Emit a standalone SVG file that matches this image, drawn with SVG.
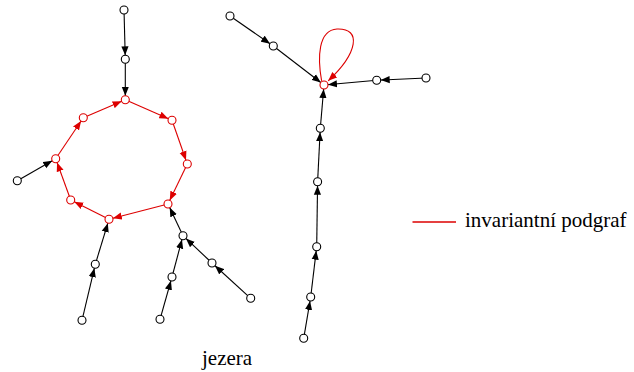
<svg xmlns="http://www.w3.org/2000/svg" width="634" height="372" viewBox="0 0 634 372">
  <style>
    .e { stroke: #000; stroke-width: 1.1; fill: none; marker-end: url(#ab); }
    .r { stroke: #dd0000; stroke-width: 1.1; fill: none; marker-end: url(#ar); }
    .n { fill: #fff; stroke: #000; stroke-width: 1.1; }
    .nr { fill: #fff; stroke: #dd0000; stroke-width: 1.1; }
    text { font-family: "Liberation Serif", "Times New Roman", serif; font-size: 21px; fill: #000; }
  </style>
  <defs>
    <marker id="ab" markerUnits="userSpaceOnUse" viewBox="0 0 13 8" markerWidth="13" markerHeight="8" refX="13" refY="4" orient="auto">
      <path d="M0,0.4 L9,4 L0,7.6 z" fill="#000"/>
    </marker>
    <marker id="ar" markerUnits="userSpaceOnUse" viewBox="0 0 13 8" markerWidth="13" markerHeight="8" refX="13" refY="4" orient="auto">
      <path d="M0,0.4 L9,4 L0,7.6 z" fill="#dd0000"/>
    </marker>
    <marker id="arl" markerUnits="userSpaceOnUse" viewBox="0 0 13 8" markerWidth="13" markerHeight="8" refX="9" refY="4" orient="auto">
      <path d="M0,0.4 L9,4 L0,7.6 z" fill="#dd0000"/>
    </marker>
  </defs>

  <g id="connectors">
    <!-- left component: trees feeding the cycle -->
    <line class="e" x1="124" y1="10" x2="125.3" y2="59.3"/>
    <line class="e" x1="125.3" y1="59.3" x2="125.3" y2="99.7"/>
    <line class="e" x1="17.3" y1="180.7" x2="55.7" y2="158.7"/>
    <line class="e" x1="95.3" y1="264.3" x2="109" y2="219.3"/>
    <line class="e" x1="82" y1="320.3" x2="95.3" y2="264.3"/>
    <line class="e" x1="183" y1="235.7" x2="168" y2="204"/>
    <line class="e" x1="172" y1="277" x2="183" y2="235.7"/>
    <line class="e" x1="160" y1="319.3" x2="172" y2="277"/>
    <line class="e" x1="212" y1="263" x2="183" y2="235.7"/>
    <line class="e" x1="250.7" y1="298.3" x2="212" y2="263"/>
    <!-- cycle -->
    <line class="r" x1="125.3" y1="99.7" x2="172" y2="120.3"/>
    <line class="r" x1="172" y1="120.3" x2="187.3" y2="164"/>
    <line class="r" x1="187.3" y1="164" x2="168" y2="204"/>
    <line class="r" x1="168" y1="204" x2="109" y2="219.3"/>
    <line class="r" x1="109" y1="219.3" x2="70.7" y2="200"/>
    <line class="r" x1="70.7" y1="200" x2="55.7" y2="158.7"/>
    <line class="r" x1="55.7" y1="158.7" x2="83.3" y2="117.7"/>
    <line class="r" x1="83.3" y1="117.7" x2="125.3" y2="99.7"/>
    <!-- right component: trees feeding the fixed point -->
    <line class="e" x1="230" y1="16" x2="273.3" y2="46"/>
    <line class="e" x1="273.3" y1="46" x2="324" y2="85"/>
    <line class="e" x1="376.7" y1="80.3" x2="324" y2="85"/>
    <line class="e" x1="426" y1="78" x2="376.7" y2="80.3"/>
    <line class="e" x1="320.3" y1="128.3" x2="324" y2="85"/>
    <line class="e" x1="317.6" y1="181.7" x2="320.3" y2="128.3"/>
    <line class="e" x1="316.7" y1="246.7" x2="317.6" y2="181.7"/>
    <line class="e" x1="310.7" y1="297" x2="316.7" y2="246.7"/>
    <line class="e" x1="303.7" y1="338.3" x2="310.7" y2="297"/>
    <!-- self loop -->
    <path d="M321.6,80.8 C317.5,58 318,30 337,29 C362,28 358,53 328.2,80.8" stroke="#dd0000" stroke-width="1.1" fill="none" marker-end="url(#arl)"/>
  </g>

  <g id="n1"><circle class="n" cx="124" cy="10" r="4"/></g>
  <g id="n2"><circle class="n" cx="125.3" cy="59.3" r="4"/></g>
  <g id="c1"><circle class="nr" cx="125.3" cy="99.7" r="4"/></g>
  <g id="c2"><circle class="nr" cx="172" cy="120.3" r="4"/></g>
  <g id="c3"><circle class="nr" cx="187.3" cy="164" r="4"/></g>
  <g id="c4"><circle class="nr" cx="168" cy="204" r="4"/></g>
  <g id="c5"><circle class="nr" cx="109" cy="219.3" r="4"/></g>
  <g id="c6"><circle class="nr" cx="70.7" cy="200" r="4"/></g>
  <g id="c7"><circle class="nr" cx="55.7" cy="158.7" r="4"/></g>
  <g id="c8"><circle class="nr" cx="83.3" cy="117.7" r="4"/></g>
  <g id="n3"><circle class="n" cx="17.3" cy="180.7" r="4"/></g>
  <g id="n4"><circle class="n" cx="95.3" cy="264.3" r="4"/></g>
  <g id="n5"><circle class="n" cx="82" cy="320.3" r="4"/></g>
  <g id="n6"><circle class="n" cx="183" cy="235.7" r="4"/></g>
  <g id="n7"><circle class="n" cx="172" cy="277" r="4"/></g>
  <g id="n8"><circle class="n" cx="160" cy="319.3" r="4"/></g>
  <g id="n9"><circle class="n" cx="212" cy="263" r="4"/></g>
  <g id="n10"><circle class="n" cx="250.7" cy="298.3" r="4"/></g>

  <g id="m1"><circle class="n" cx="230" cy="16" r="4"/></g>
  <g id="m2"><circle class="n" cx="273.3" cy="46" r="4"/></g>
  <g id="fix"><circle class="nr" cx="324" cy="85" r="4"/></g>
  <g id="m3"><circle class="n" cx="376.7" cy="80.3" r="4"/></g>
  <g id="m4"><circle class="n" cx="426" cy="78" r="4"/></g>
  <g id="m5"><circle class="n" cx="320.3" cy="128.3" r="4"/></g>
  <g id="m6"><circle class="n" cx="317.6" cy="181.7" r="4"/></g>
  <g id="m7"><circle class="n" cx="316.7" cy="246.7" r="4"/></g>
  <g id="m8"><circle class="n" cx="310.7" cy="297" r="4"/></g>
  <g id="m9"><circle class="n" cx="303.7" cy="338.3" r="4"/></g>

  <g id="legend">
    <line x1="412.5" y1="222" x2="456" y2="222" stroke="#dd0000" stroke-width="1.4"/>
    <text x="465" y="227">invariantní podgraf</text>
  </g>
  <g id="caption">
    <text x="202" y="365">jezera</text>
  </g>
</svg>
